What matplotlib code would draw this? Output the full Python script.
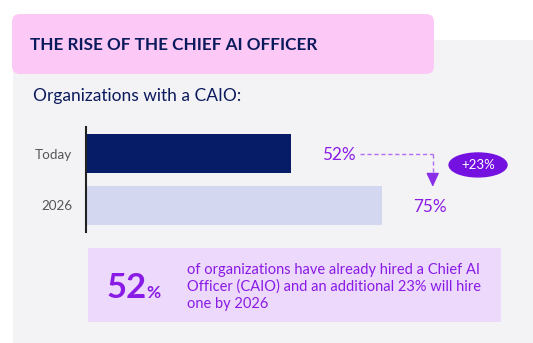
import matplotlib
matplotlib.use("Agg")
import matplotlib.pyplot as plt
from matplotlib.patches import FancyBboxPatch, Rectangle, Ellipse

plt.rcParams['font.family'] = ['Lato', 'DejaVu Sans']

# данные
categories = ['Today', '2026']
values = [52, 75]
increase = values[1] - values[0]
bar_colors = ['#061c66', '#d3d8f0']

title = 'THE RISE OF THE CHIEF AI OFFICER'
subtitle = 'Organizations with a CAIO:'
note_value = '52'
note_text = 'of organizations have already hired a Chief AI\nOfficer (CAIO) and an additional 23% will hire\none by 2026'

navy = '#0b1a5c'
purple = '#8a1be6'

W, H = 533, 343
fig = plt.figure(figsize=(W / 100, H / 100), dpi=100)

# фон в пикселях
bg = fig.add_axes([0, 0, 1, 1])
bg.set_xlim(0, W)
bg.set_ylim(H, 0)
bg.axis('off')

bg.add_patch(Rectangle((13, 40), W - 13, H - 40, color='#f3f3f6', lw=0))
bg.add_patch(FancyBboxPatch((20, 22), 406, 44, boxstyle='round,pad=8',
                            fc='#fcc8f5', ec='none'))
bg.text(30, 45, title, color=navy, fontsize=12.3, fontweight='bold', va='center')
bg.text(33, 96, subtitle, color=navy, fontsize=12.5, va='center')

# нижний блок
bg.add_patch(Rectangle((88, 248), 413, 74, color='#ecd9fb', lw=0))
bg.text(107, 288, note_value, color=purple, fontsize=25, fontweight='bold',
        va='center')
bg.text(146, 293, '%', color=purple, fontsize=12.5, fontweight='bold', va='center')
bg.text(187, 287, note_text, color=purple, fontsize=10.5, va='center',
        linespacing=1.25)

# столбцы
left, right, top, bottom = 86, W, 127, 232
ax = fig.add_axes([left / W, 1 - bottom / H, (right - left) / W, (bottom - top) / H])
ax.patch.set_alpha(0)
ypos = list(range(len(categories)))
ax.barh(ypos, values, height=0.75, color=bar_colors)
ax.set_xlim(0, (right - left) / 3.94)
ax.set_ylim(1.51, -0.51)
ax.set_yticks(ypos)
ax.set_yticklabels(categories, fontsize=9.7, color='#555555')
ax.tick_params(axis='y', length=0, pad=10)
ax.set_xticks([])
for s in ['top', 'right', 'bottom']:
    ax.spines[s].set_visible(False)
ax.spines['left'].set_linewidth(1.5)
ax.spines['left'].set_color('#222222')

for y, v in zip(ypos, values):
    ax.text(v + 8, y + 0.03, f'{v}%', color=purple, fontsize=12.3, va='center')

# пунктирная стрелка
ax.plot([values[0] + 17.5, 88], [0, 0], ls=(0, (3, 2)), color='#b36df0', lw=1,
        clip_on=False)
ax.plot([88, 88], [0, 0.42], ls=(0, (3, 2)), color='#b36df0', lw=1,
        clip_on=False)
ax.annotate('', xy=(88, 0.64), xytext=(88, 0.42),
            arrowprops=dict(arrowstyle='-|>,head_length=0.6,head_width=0.28',
                            color='#8a2ee8', lw=1, mutation_scale=14,
                            shrinkA=0, shrinkB=0),
            annotation_clip=False)
ax.add_patch(Ellipse((99.5, 0.22), 14.7, 0.46, color='#7410e0', clip_on=False))
ax.text(99.5, 0.22, f'+{increase}%', color='white', fontsize=9.5, ha='center',
        va='center')

fig.savefig('out.png', dpi=100)
